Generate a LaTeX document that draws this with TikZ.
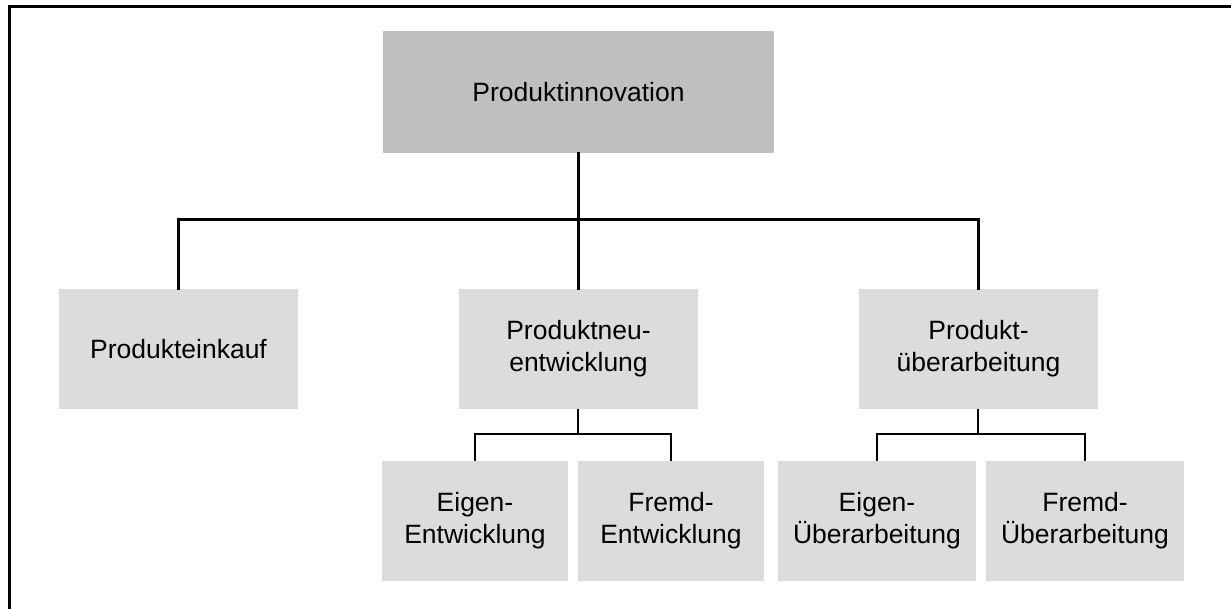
\documentclass[tikz,border=0pt]{standalone}
\usepackage{fontspec}
\setmainfont{Liberation Sans}
\definecolor{topgray}{HTML}{BFBFBF}
\definecolor{boxgray}{HTML}{DCDCDC}
\begin{document}
\begin{tikzpicture}[x=1pt,y=-1pt,
  box/.style={fill=boxgray, draw=none, inner sep=0pt, align=center,
    font=\fontsize{26.5}{32}\selectfont, minimum height=120pt},
  bigbox/.style={box, fill=topgray, minimum height=122pt, minimum width=391pt},
  midbox/.style={box, minimum width=239pt},
  smallbox/.style={box, minimum width=186pt},
  widebox/.style={box, minimum width=198pt},
  mainline/.style={line width=3pt, line cap=rect},
  subline/.style={line width=1.6pt},
  frameline/.style={line width=3pt}
]
\useasboundingbox (0,0) rectangle (1231,609);
\fill[white] (0,0) rectangle (1231,609);
% frame (top and left only)
\draw[frameline] (1231,7) -- (9.5,7) -- (9.5,609);

\node[bigbox] (top) at (578.5,92) {Produktinnovation};
\node[midbox] (eink) at (178.5,349) {Produkteinkauf};
\node[midbox] (neu) at (578.5,349) {Produktneu-\\entwicklung};
\node[midbox] (ueb) at (978.5,349) {Produkt-\\überarbeitung};
\node[smallbox] (eigE) at (475,521) {Eigen-\\Entwicklung};
\node[smallbox] (fremdE) at (671,521) {Fremd-\\Entwicklung};
\node[widebox] (eigU) at (877,521) {Eigen-\\Überarbeitung};
\node[widebox] (fremdU) at (1085,521) {Fremd-\\Überarbeitung};

\coordinate (j) at (578.5,220);
\coordinate (j2) at (578,434);
\coordinate (j3) at (978,434);

\draw[mainline] (top.south) -- (j);
\draw[mainline] (eink.north) |- (j) -| (ueb.north);
\draw[mainline] (j) -- (neu.north);

\draw[subline] (neu.south -| j2) -- (j2);
\draw[subline] (eigE.north) |- (j2) -| (fremdE.north);
\draw[subline] (ueb.south -| j3) -- (j3);
\draw[subline] (eigU.north) |- (j3) -| (fremdU.north);
\end{tikzpicture}
\end{document}
